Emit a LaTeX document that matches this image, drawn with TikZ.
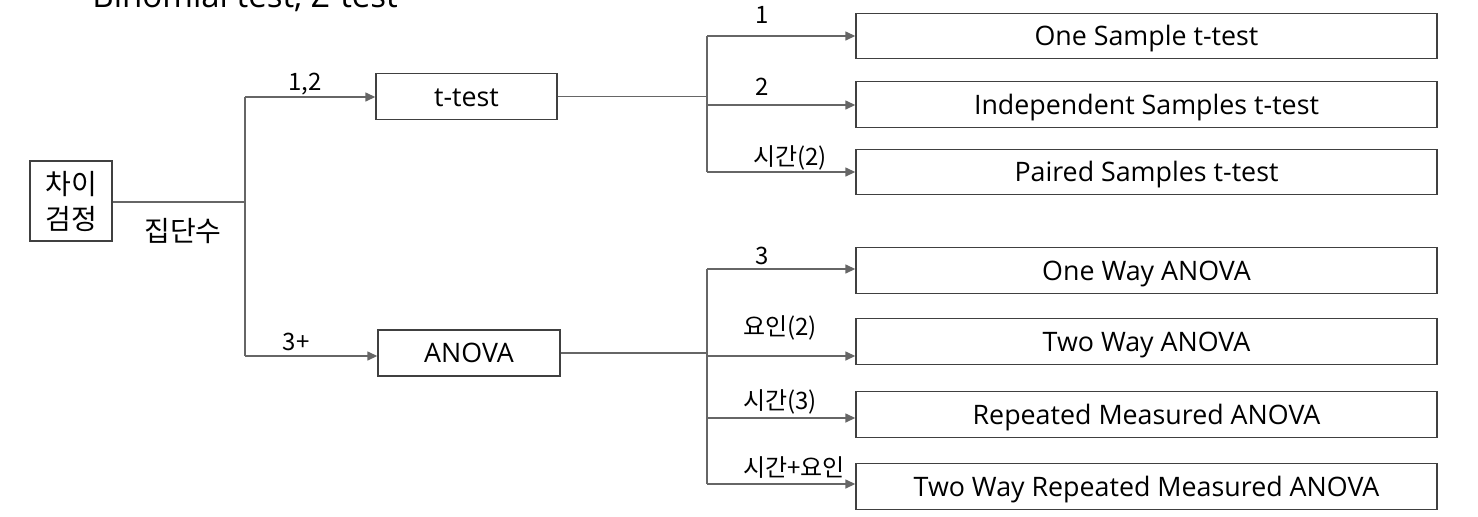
\documentclass[tikz,border=0pt]{standalone}
\usepackage{fontspec}
\setmainfont{Open Sans}
\newfontfamily\kr{Noto Sans CJK KR}
\usetikzlibrary{arrows.meta,positioning}

\begin{document}
\begin{tikzpicture}[x=0.5pt,y=-0.5pt,font=\fontsize{13.4}{16}\selectfont,
	box/.style={draw=black!75,line width=0.7pt,minimum height=22.75pt,inner sep=0pt,text height=9.6pt,text depth=0pt},
	link/.style={draw=black!60,line width=0.7pt},
	lbl/.style={font=\kr\fontsize{12}{14}\selectfont,inner sep=0pt},
	>={Triangle[length=5pt,width=4.5pt]}]
\useasboundingbox (0,0) rectangle (1478,516);
\node[anchor=base west,inner sep=0pt,font=\fontsize{16.5}{18}\selectfont] (title) at (92,7) {Binomial test, Z-test};

\node[box,minimum width=41pt,minimum height=40pt,align=center,text height=,text depth=,font=\kr\fontsize{14}{17.5}\selectfont] (root) at (71,201) {차이\\검정};
\node[box,minimum width=90.5pt] (T) at (466.5,96.5) {t-test};
\node[box,minimum width=91pt,minimum height=23pt] (A) at (469,353) {ANOVA};
\coordinate (S) at (245,202);
\coordinate (S1) at (245,97);
\coordinate (S2) at (245,356);
\draw[link] (root.east |- S) -- (S);
\draw[link] (S1) -- (S2);
\draw[link,->] (S1) -- (S1 -| T.west);
\draw[link,->] (S2) -- (S2 -| A.west);
\node[lbl,font=\kr\fontsize{14}{16}\selectfont] (L0) at (183,231) {집단수};
\node[lbl] (LT) at (305,84) {1,2};
\node[lbl] (LA) at (296,342) {3+};

\foreach \t/\by/\ay/\l/\lx/\ly [count=\n] in {One Sample t-test/36/36/1/762/15,Independent Samples t-test/104.5/105/2/762/87,Paired Samples t-test/172/172/시간(2)/790/158,One Way ANOVA/270.5/269/3/762/256,Two Way ANOVA/341.5/356/요인(2)/780/328,Repeated Measured ANOVA/414.5/418/시간(3)/780/402,Two Way Repeated Measured ANOVA/486.5/484/시간+요인/794/468}{
	\node[box,minimum width=290.5pt] (B\n) at (1146.5,\by) {\t};
	\coordinate (J\n) at (707,\ay);
	\draw[link,->] (J\n) -- (J\n -| B\n.west);
	\node[lbl] (L\n) at (\lx,\ly) {\l};
}
\draw[link] (T.east) -- (T.east -| J1);
\draw[link] (J1) -- (J3);
\draw[link] (A.east) -- (A.east -| J4);
\draw[link] (J4) -- (J7);
\end{tikzpicture}
\end{document}
